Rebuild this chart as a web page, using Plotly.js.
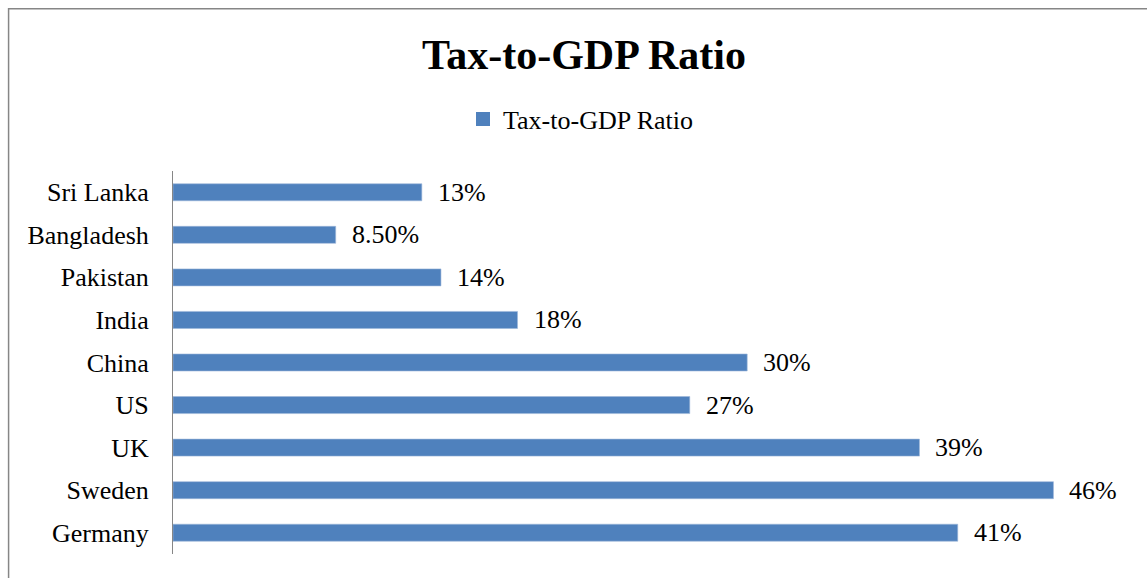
<!DOCTYPE html>
<html>
<head>
<meta charset="utf-8">
<script src="https://cdn.plot.ly/plotly-3.0.1.min.js"></script>
<style>html,body{margin:0;padding:0;background:#fff;}#chart{width:1147px;height:578px;}</style>
</head>
<body>
<div id="chart"></div>
<script>
const categories = ["Sri Lanka", "Bangladesh", "Pakistan", "India", "China", "US", "UK", "Sweden", "Germany"];
const values = [13, 8.5, 14, 18, 30, 27, 39, 46, 41];
const labels = ["13%", "8.50%", "14%", "18%", "30%", "27%", "39%", "46%", "41%"];
const seriesName = "Tax-to-GDP Ratio";
const chartTitle = "Tax-to-GDP Ratio";

const FONT = "'Liberation Serif', 'Times New Roman', serif";
const BAR = "#4F81BD";

const trace = {
  type: "bar",
  orientation: "h",
  name: seriesName,
  x: values,
  y: categories,
  marker: {color: BAR, line: {color: "#9db7da", width: 0.6}},
  hoverinfo: "skip",
  showlegend: false
};

// legend-only entry (larger square swatch like the reference)
const legendEntry = {
  type: "scatter", mode: "markers", name: seriesName,
  x: [null], y: [null],
  marker: {symbol: "square", size: 14, color: BAR},
  showlegend: true, hoverinfo: "skip"
};

const annotations = categories.map((c, i) => ({
  x: values[i], y: c, xref: "x", yref: "y",
  text: labels[i], showarrow: false, xanchor: "left", yanchor: "middle",
  xshift: 14, font: {family: FONT, size: 26, color: "#000"}
}));

const layout = {
  width: 1147, height: 578,
  margin: {l: 173, r: 16.5, t: 171, b: 24, pad: 0},
  paper_bgcolor: "#fff", plot_bgcolor: "#fff",
  font: {family: FONT, size: 26, color: "#000"},
  title: {text: "<b>" + chartTitle + "</b>", font: {family: FONT, size: 42, color: "#000"},
          x: 584 / 1147, xref: "container", xanchor: "center",
          y: 1 - 54 / 578, yref: "container", yanchor: "middle"},
  showlegend: true,
  legend: {orientation: "h", xref: "container", yref: "container",
           x: 463 / 1147, xanchor: "left", y: 1 - 119 / 578, yanchor: "middle",
           font: {family: FONT, size: 26, color: "#000"}, bgcolor: "rgba(0,0,0,0)"},
  bargap: 0.6,
  xaxis: {range: [0, 50], showgrid: false, zeroline: false, showline: false,
          showticklabels: false, ticks: "", fixedrange: true},
  yaxis: {autorange: "reversed", type: "category", categoryorder: "array", categoryarray: categories,
          showgrid: false, zeroline: false,
          showline: true, linecolor: "#868686", linewidth: 1, ticks: "",
          ticklabelstandoff: 18, tickfont: {family: FONT, size: 26, color: "#000"}, fixedrange: true},
  annotations: annotations,
  shapes: [{type: "rect", xref: "paper", yref: "paper",
            x0: (8.5 - 173) / 957.5, x1: 1.2, y0: -0.2, y1: (554.3 - 8.5) / 383.3,
            line: {color: "#868686", width: 1.5}, fillcolor: "rgba(0,0,0,0)", layer: "below"}]
};

Plotly.newPlot("chart", [trace, legendEntry], layout, {displayModeBar: false, staticPlot: true});
</script>
</body>
</html>
